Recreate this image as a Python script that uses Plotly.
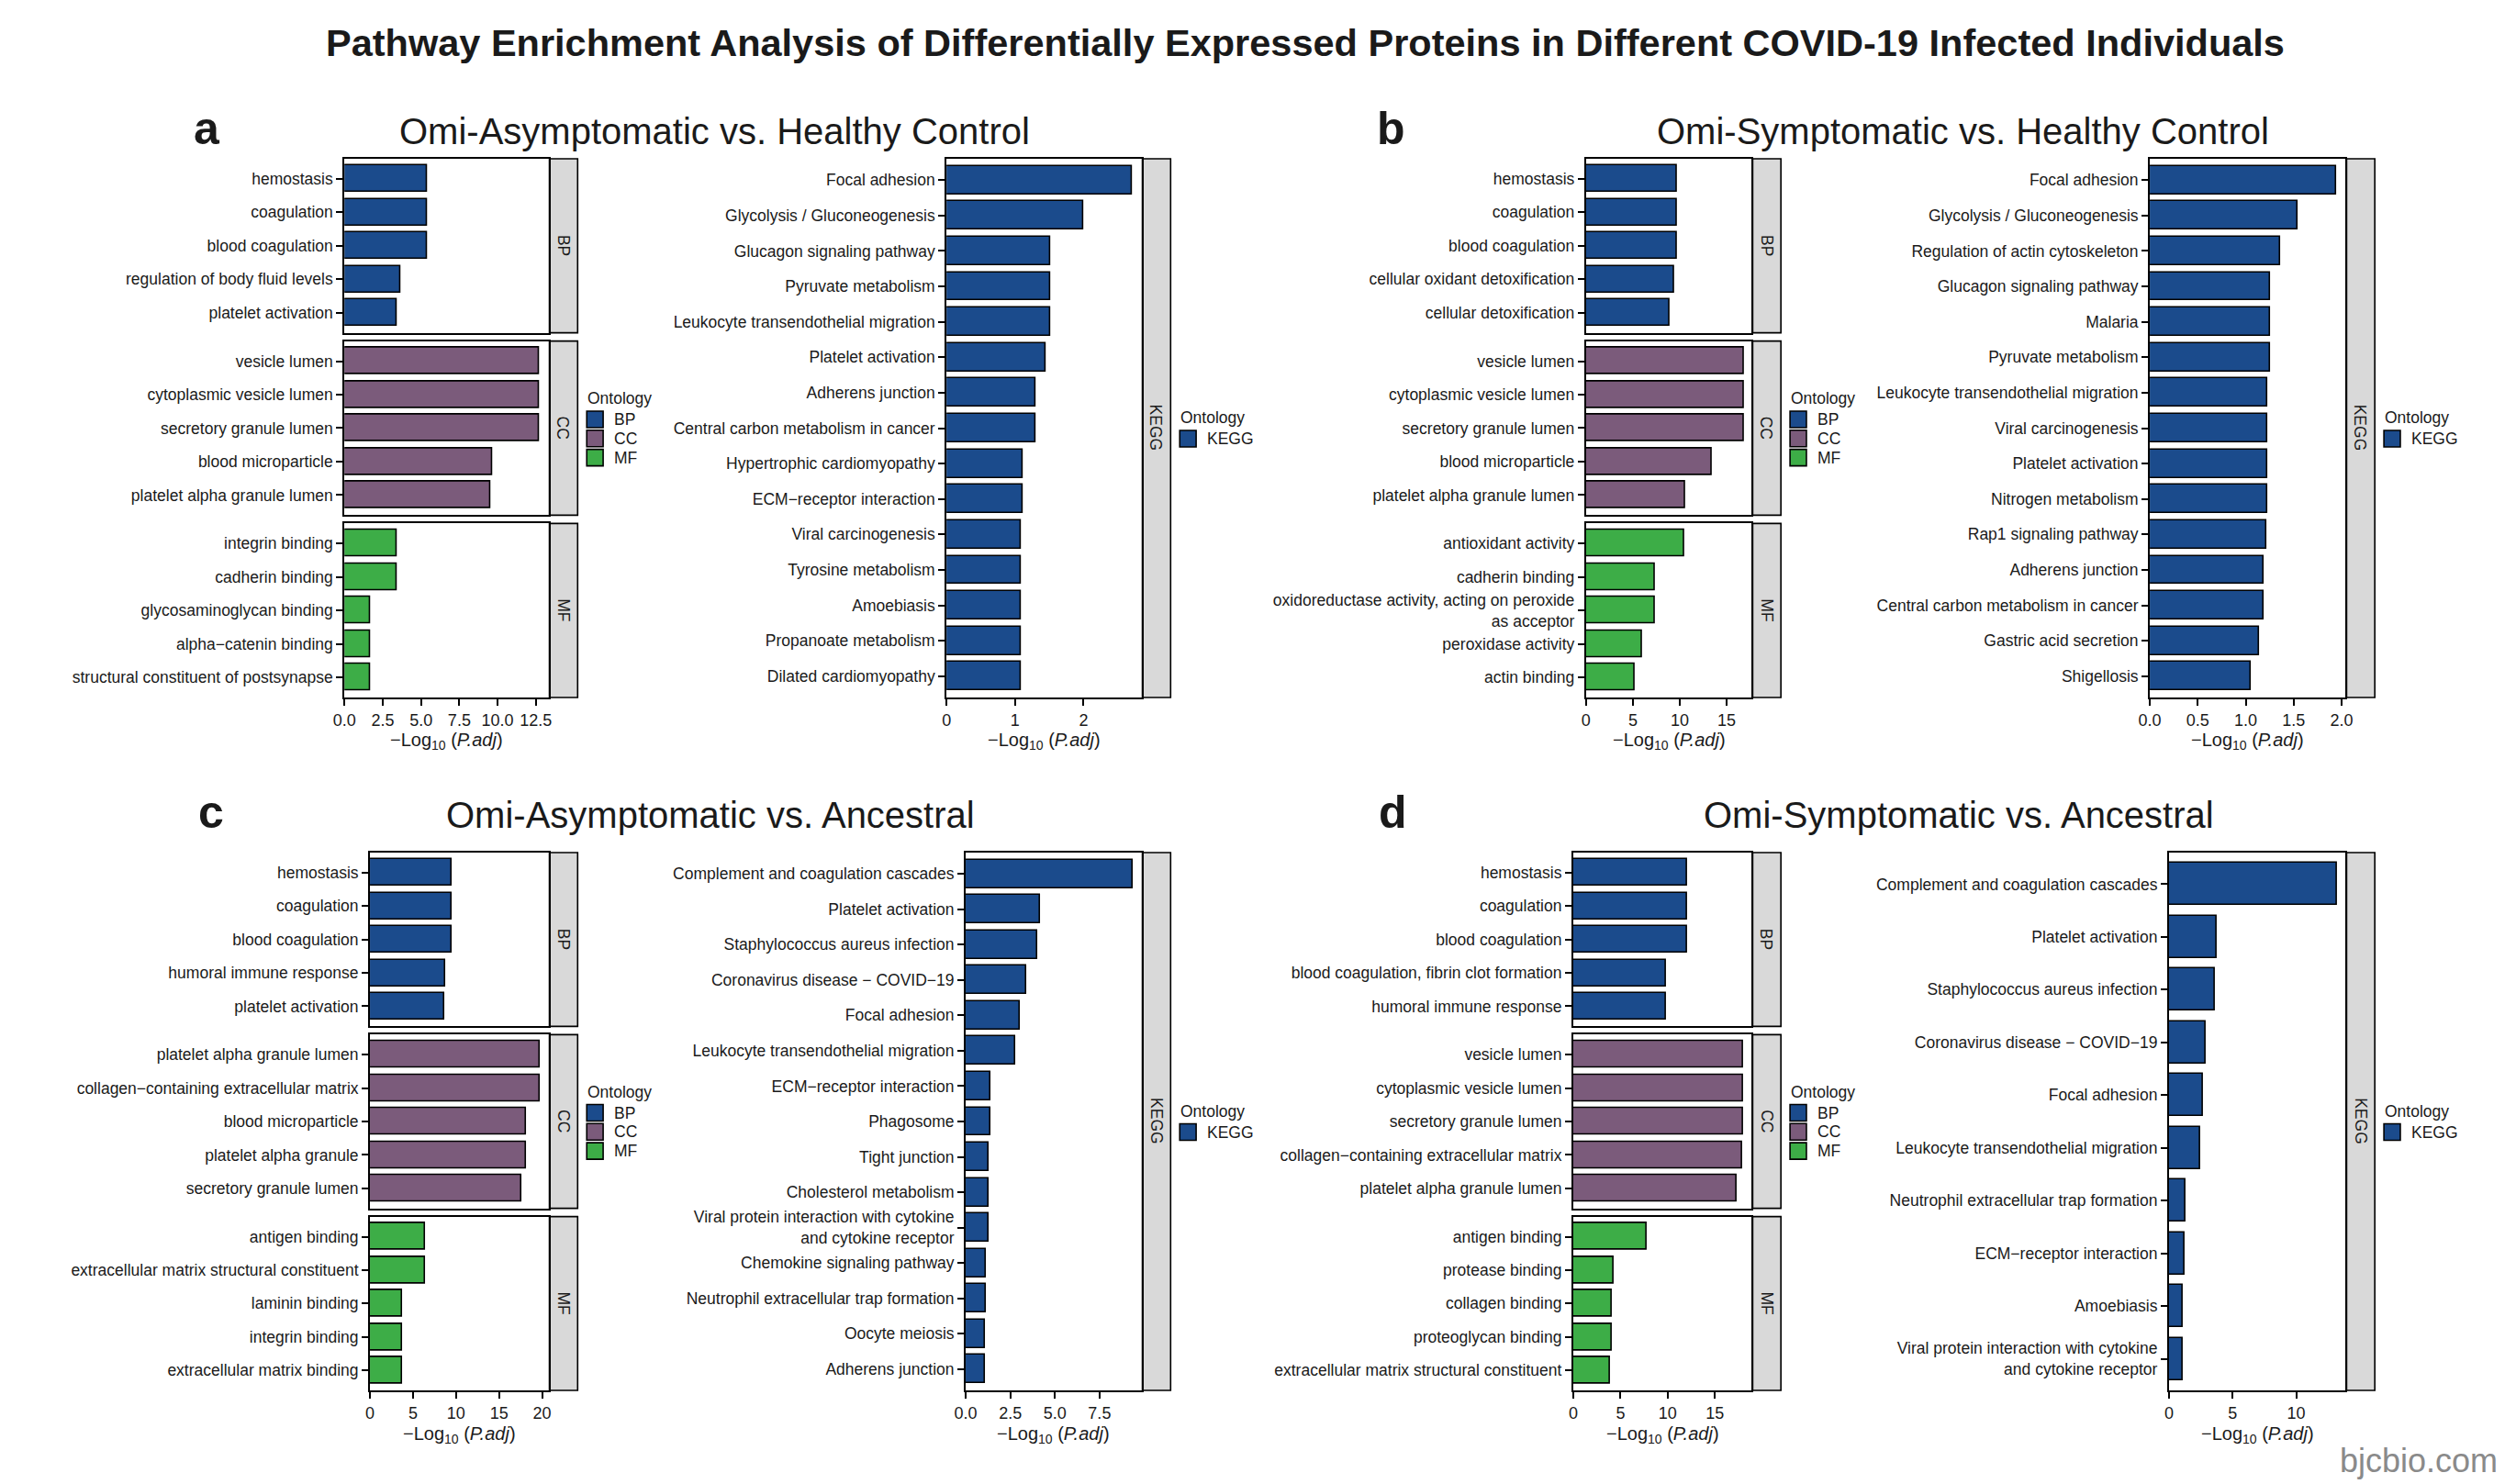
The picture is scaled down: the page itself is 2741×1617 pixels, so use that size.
import plotly.graph_objects as go

W, H = 2741, 1617
FONT = "Arial, Liberation Sans, Helvetica, sans-serif"

# ---- data: -log10(P.adj) per term ----
ont_colors = {"BP": "#1B4B8C", "CC": "#7B5B7B", "MF": "#3DAD47", "KEGG": "#1B4B8C"}

# a: Omi-Asymptomatic vs. Healthy Control
a_bp_terms = ["hemostasis", "coagulation", "blood coagulation", "regulation of body fluid levels", "platelet activation"]
a_bp_vals = [5.40, 5.40, 5.40, 3.63, 3.44]
a_cc_terms = ["vesicle lumen", "cytoplasmic vesicle lumen", "secretory granule lumen", "blood microparticle", "platelet alpha granule lumen"]
a_cc_vals = [12.69, 12.69, 12.69, 9.67, 9.53]
a_mf_terms = ["integrin binding", "cadherin binding", "glycosaminoglycan binding", "alpha−catenin binding", "structural constituent of postsynapse"]
a_mf_vals = [3.44, 3.44, 1.69, 1.69, 1.69]
a_kegg_terms = ["Focal adhesion", "Glycolysis / Gluconeogenesis", "Glucagon signaling pathway", "Pyruvate metabolism",
                "Leukocyte transendothelial migration", "Platelet activation", "Adherens junction",
                "Central carbon metabolism in cancer", "Hypertrophic cardiomyopathy", "ECM−receptor interaction",
                "Viral carcinogenesis", "Tyrosine metabolism", "Amoebiasis", "Propanoate metabolism", "Dilated cardiomyopathy"]
a_kegg_vals = [2.71, 1.99, 1.52, 1.52, 1.51, 1.45, 1.30, 1.30, 1.11, 1.11, 1.08, 1.08, 1.08, 1.08, 1.08]

# b: Omi-Symptomatic vs. Healthy Control
b_bp_terms = ["hemostasis", "coagulation", "blood coagulation", "cellular oxidant detoxification", "cellular detoxification"]
b_bp_vals = [9.66, 9.66, 9.66, 9.41, 8.86]
b_cc_terms = ["vesicle lumen", "cytoplasmic vesicle lumen", "secretory granule lumen", "blood microparticle", "platelet alpha granule lumen"]
b_cc_vals = [16.84, 16.84, 16.84, 13.38, 10.59]
b_mf_terms = ["antioxidant activity", "cadherin binding", "oxidoreductase activity, acting on peroxide<br>as acceptor",
              "peroxidase activity", "actin binding"]
b_mf_vals = [10.46, 7.30, 7.30, 5.99, 5.15]
b_kegg_terms = ["Focal adhesion", "Glycolysis / Gluconeogenesis", "Regulation of actin cytoskeleton",
                "Glucagon signaling pathway", "Malaria", "Pyruvate metabolism", "Leukocyte transendothelial migration",
                "Viral carcinogenesis", "Platelet activation", "Nitrogen metabolism", "Rap1 signaling pathway",
                "Adherens junction", "Central carbon metabolism in cancer", "Gastric acid secretion", "Shigellosis"]
b_kegg_vals = [1.946, 1.545, 1.358, 1.259, 1.259, 1.259, 1.226, 1.226, 1.226, 1.226, 1.217, 1.188, 1.188, 1.139, 1.056]

# c: Omi-Asymptomatic vs. Ancestral
c_bp_terms = ["hemostasis", "coagulation", "blood coagulation", "humoral immune response", "platelet activation"]
c_bp_vals = [9.46, 9.46, 9.46, 8.75, 8.60]
c_cc_terms = ["platelet alpha granule lumen", "collagen−containing extracellular matrix", "blood microparticle",
              "platelet alpha granule", "secretory granule lumen"]
c_cc_vals = [19.76, 19.76, 18.10, 18.10, 17.60]
c_mf_terms = ["antigen binding", "extracellular matrix structural constituent", "laminin binding", "integrin binding",
              "extracellular matrix binding"]
c_mf_vals = [6.43, 6.43, 3.69, 3.69, 3.69]
c_kegg_terms = ["Complement and coagulation cascades", "Platelet activation", "Staphylococcus aureus infection",
                "Coronavirus disease − COVID−19", "Focal adhesion", "Leukocyte transendothelial migration",
                "ECM−receptor interaction", "Phagosome", "Tight junction", "Cholesterol metabolism",
                "Viral protein interaction with cytokine<br>and cytokine receptor", "Chemokine signaling pathway",
                "Neutrophil extracellular trap formation", "Oocyte meiosis", "Adherens junction"]
c_kegg_vals = [9.38, 4.19, 4.03, 3.39, 3.05, 2.78, 1.37, 1.37, 1.30, 1.30, 1.30, 1.14, 1.14, 1.07, 1.07]

# d: Omi-Symptomatic vs. Ancestral
d_bp_terms = ["hemostasis", "coagulation", "blood coagulation", "blood coagulation, fibrin clot formation",
              "humoral immune response"]
d_bp_vals = [12.06, 12.06, 12.06, 9.84, 9.84]
d_cc_terms = ["vesicle lumen", "cytoplasmic vesicle lumen", "secretory granule lumen",
              "collagen−containing extracellular matrix", "platelet alpha granule lumen"]
d_cc_vals = [18.00, 18.00, 18.00, 17.85, 17.30]
d_mf_terms = ["antigen binding", "protease binding", "collagen binding", "proteoglycan binding",
              "extracellular matrix structural constituent"]
d_mf_vals = [7.75, 4.23, 4.10, 4.10, 3.90]
d_kegg_terms = ["Complement and coagulation cascades", "Platelet activation", "Staphylococcus aureus infection",
                "Coronavirus disease − COVID−19", "Focal adhesion", "Leukocyte transendothelial migration",
                "Neutrophil extracellular trap formation", "ECM−receptor interaction", "Amoebiasis",
                "Viral protein interaction with cytokine<br>and cytokine receptor"]
d_kegg_vals = [13.22, 3.75, 3.63, 2.91, 2.66, 2.47, 1.31, 1.19, 1.06, 1.06]

panel_titles = ["Omi-Asymptomatic vs. Healthy Control", "Omi-Symptomatic vs. Healthy Control",
                "Omi-Asymptomatic vs. Ancestral", "Omi-Symptomatic vs. Ancestral"]
panel_letters = ["a", "b", "c", "d"]
main_title = ("Pathway Enrichment Analysis of Differentially Expressed Proteins "
              "in Different COVID-19 Infected Individuals")
x_title = "−Log<sub>10</sub> (<i>P.adj</i>)"

go_data = [
    [("BP", a_bp_terms, a_bp_vals), ("CC", a_cc_terms, a_cc_vals), ("MF", a_mf_terms, a_mf_vals)],
    [("BP", b_bp_terms, b_bp_vals), ("CC", b_cc_terms, b_cc_vals), ("MF", b_mf_terms, b_mf_vals)],
    [("BP", c_bp_terms, c_bp_vals), ("CC", c_cc_terms, c_cc_vals), ("MF", c_mf_terms, c_mf_vals)],
    [("BP", d_bp_terms, d_bp_vals), ("CC", d_cc_terms, d_cc_vals), ("MF", d_mf_terms, d_mf_vals)],
]
kegg_data = [(a_kegg_terms, a_kegg_vals), (b_kegg_terms, b_kegg_vals),
             (c_kegg_terms, c_kegg_vals), (d_kegg_terms, d_kegg_vals)]

# ---- layout (pixel positions in the 2741x1617 picture) ----
rows_y = [(173, 760), (929, 1515)]
facet_gap = 9
go_x = [(365, 589), (1728, 1910), (393, 589), (1714, 1910)]
kegg_x = [(1026, 1240), (2347, 2562), (1047, 1240), (2368, 2562)]
go_ticks = [(2.5, ".1f"), (5, "d"), (5, "d"), (5, "d")]
kegg_ticks = [(1, "d"), (0.5, ".1f"), (2.5, ".1f"), (5, "d")]
letter_pos = [(214, 140), (1514, 140), (219, 885), (1516, 885)]
title_pos = [(771, 143), (2142, 143), (767, 888), (2137, 888)]

OFF = 8  # default page margin of the html body


def px(x):
    return (x - OFF) / W


def py(y):
    return 1 - (y - OFF) / H


fig = go.Figure()
layout = {}
shapes = []
annotations = []
n_ax = [0]


def label(x, y, text, size, **kw):
    d = dict(x=px(x), y=py(y), xref="paper", yref="paper", text=text, showarrow=False,
             xanchor="center", yanchor="middle", font=dict(size=size, color="#1a1a1a"))
    d.update(kw)
    annotations.append(d)


def add_facet(x0, x1, y0, y1, terms, vals, color, strip, xmax, dtick, fmt, show_x):
    n_ax[0] += 1
    k = n_ax[0]
    sfx = "" if k == 1 else str(k)
    fig.add_trace(go.Bar(
        x=vals, y=terms, orientation="h", width=0.8,
        marker=dict(color=color, line=dict(color="black", width=1.6)),
        xaxis="x" + sfx, yaxis="y" + sfx, showlegend=False,
    ))
    layout["xaxis" + sfx] = dict(
        domain=[px(x0), px(x1)], anchor="y" + sfx, range=[0, xmax],
        showline=True, mirror=True, linecolor="black", linewidth=2,
        showgrid=False, zeroline=False,
        ticks="outside" if show_x else "", ticklen=7, tickwidth=1.5, tickcolor="black",
        tick0=0, dtick=dtick, tickformat=fmt, showticklabels=show_x,
        tickfont=dict(size=18, color="#1a1a1a"),
    )
    layout["yaxis" + sfx] = dict(
        domain=[py(y1), py(y0)], anchor="x" + sfx, type="category",
        categoryorder="array", categoryarray=terms, range=[len(terms) - 0.4, -0.6],
        showline=True, mirror=True, linecolor="black", linewidth=2,
        showgrid=False, zeroline=False,
        ticks="outside", ticklen=7, tickwidth=1.5, tickcolor="black",
        tickfont=dict(size=17.5, color="#1a1a1a"),
    )
    # facet strip on the right
    shapes.append(dict(type="rect", xref="paper", yref="paper",
                       x0=px(x1 + 1), x1=px(x1 + 32), y0=py(y1), y1=py(y0),
                       fillcolor="#D9D9D9", line=dict(color="black", width=1.6), layer="below"))
    label(x1 + 16.5, (y0 + y1) / 2, strip, 17.5, textangle=90)


def add_legend(x, yc, keys):
    n = len(keys)
    top = yc - (n * 21 + 22) / 2
    label(x, top + 10, "Ontology", 17.5, xanchor="left")
    for i, key in enumerate(keys):
        cy = top + 33 + i * 20.8
        shapes.append(dict(type="rect", xref="paper", yref="paper",
                           x0=px(x + 1), x1=px(x + 19), y0=py(cy + 9), y1=py(cy - 9),
                           fillcolor=ont_colors[key], line=dict(color="black", width=1.6)))
        label(x + 29, cy, key, 17.5, xanchor="left")


for p in range(4):
    top, bottom = rows_y[p // 2]
    fh = (bottom - top - 2 * facet_gap) / 3

    # GO facets (BP / CC / MF) share one x range
    gx0, gx1 = go_x[p]
    go_max = max(max(v) for _, _, v in go_data[p]) * 1.05
    for i, (ont, terms, vals) in enumerate(go_data[p]):
        y0 = top + i * (fh + facet_gap)
        add_facet(gx0, gx1, y0, y0 + fh, terms, vals, ont_colors[ont], ont,
                  go_max, go_ticks[p][0], go_ticks[p][1], i == 2)
    label((gx0 + gx1) / 2, bottom + 48, x_title, 20)
    add_legend(gx1 + 41, (top + bottom) / 2, ["BP", "CC", "MF"])

    # KEGG panel
    kx0, kx1 = kegg_x[p]
    kterms, kvals = kegg_data[p]
    add_facet(kx0, kx1, top, bottom, kterms, kvals, ont_colors["KEGG"], "KEGG",
              max(kvals) * 1.05, kegg_ticks[p][0], kegg_ticks[p][1], True)
    label((kx0 + kx1) / 2, bottom + 48, x_title, 20)
    add_legend(kx1 + 41, (top + bottom) / 2, ["KEGG"])

    lx, ly = letter_pos[p]
    label(lx, ly, "<b>%s</b>" % panel_letters[p], 50)
    tx, ty = title_pos[p]
    label(tx, ty, panel_titles[p], 40)

label(1420, 47, "<b>%s</b>" % main_title, 41.5)
label(2642, 1591, "bjcbio.com", 36, font=dict(size=36, color="#8a8a8a"))

fig.update_layout(
    width=W, height=H, margin=dict(l=0, r=0, t=0, b=0),
    paper_bgcolor="white", plot_bgcolor="white",
    font=dict(family=FONT, color="#1a1a1a"),
    shapes=shapes, annotations=annotations, bargap=0,
    **layout,
)

fig.write_html("out.html")
